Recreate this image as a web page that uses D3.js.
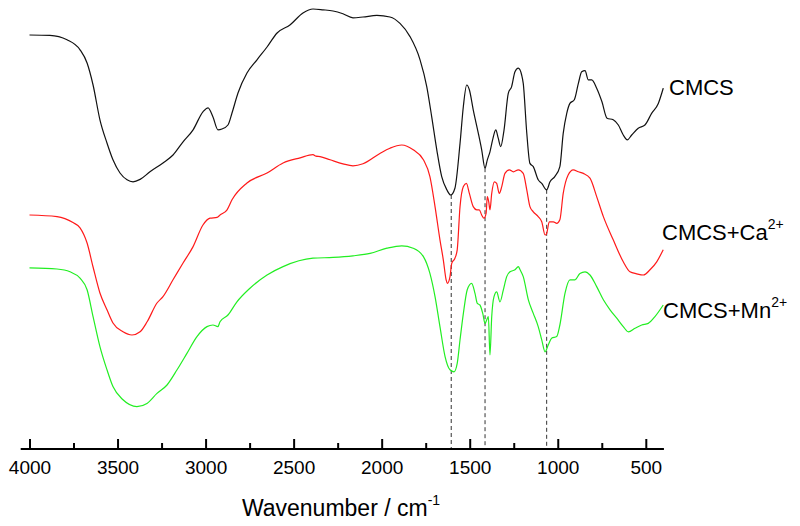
<!DOCTYPE html>
<html>
<head>
<meta charset="utf-8">
<script src="https://cdn.jsdelivr.net/npm/d3@7"></script>
<style>
  html, body { margin: 0; padding: 0; background: #fff; }
  svg { display: block; font-family: "Liberation Sans", Arial, sans-serif; }
</style>
</head>
<body>
<svg id="chart" width="800" height="526"></svg>
<script>
// ---------------- DATA ----------------
const seriesNames = ["CMCS", "CMCS+Ca", "CMCS+Mn"];
const seriesSup = ["", "2+", "2+"];

const cmcsWn = [4000,3884,3787,3713,3673,3639,3600,3560,3526,3486,3446,3412,3372,3316,3242,3185,3128,3071,3015,2986,2958,2930,2907,2873,2850,2816,2765,2708,2651,2594,2521,2447,2390,2333,2276,2220,2163,2106,2027,1953,1896,1839,1782,1744,1716,1687,1659,1630,1608,1584,1555,1536,1517,1502,1480,1451,1432,1413,1400,1385,1370,1352,1338,1324,1305,1281,1262,1243,1224,1205,1196,1176,1158,1139,1111,1091,1063,1044,1017,988,969,949,931,906,883,864,845,827,807,779,749,720,685,656,628,605,580,543,505,467,429,401];
const cmcsT  = [103.5,103.4,102.3,99.8,96.5,91,82.3,76.5,72.3,69,67.3,66.8,67.4,69.3,71.5,73.5,76.8,79.8,84.3,85.3,83,79.8,80,81,84,89,94,97.3,100.5,104,106,109,110,109.8,109.5,108.8,107.8,108,108.4,108,106.4,103.1,97.3,90.6,83.1,74.8,68.1,64.8,63.5,65.2,76.4,85.7,91,89.8,84.8,78.9,74.8,70.2,72.3,74.3,77.3,79.8,77.7,75.6,79.8,88.9,90.6,94.3,95.2,93.5,91.4,79,71.4,70.6,67.3,66.4,64.8,66.8,68.1,70.6,78.9,83.9,86.4,87.3,91.4,94.3,94.6,92.3,92.3,90.2,86.8,82.7,82.3,81,78.5,77.3,78.5,80.2,81,83.9,86.4,90.2];

const caWn = [4000,3844,3753,3713,3673,3639,3600,3560,3526,3469,3418,3372,3332,3276,3242,3185,3128,3071,3015,2975,2935,2918,2878,2850,2765,2651,2560,2463,2390,2373,2350,2293,2220,2163,2106,2010,1953,1886,1821,1763,1726,1697,1669,1650,1634,1627,1612,1602,1584,1571,1555,1536,1519,1502,1480,1460,1446,1432,1419,1407,1400,1392,1385,1375,1360,1347,1332,1318,1300,1275,1252,1224,1196,1176,1158,1139,1111,1091,1072,1063,1048,1025,1006,988,969,941,912,883,855,817,779,741,685,628,590,552,514,476,438,401];
const caT  = [58.5,58.1,56.6,55.3,51.5,45.5,39,34.8,31.5,29.3,28.5,29.3,31.8,36.5,38.1,42.3,46.5,50.6,56,57.7,57.9,58.5,59.8,62.3,66.5,69,71.5,72.8,73.6,73.2,73.1,72.3,71.3,70.8,71.3,73.9,75.2,76,74.8,72.3,68.1,60.6,52.3,47.3,42.3,41.4,43.1,46.4,47.7,49.8,60.6,65.6,66.4,63.9,60.6,59.8,59.8,58.5,57.7,58.9,63.1,61.8,59.8,63.9,66.8,66.4,63.9,65.6,68.9,69.8,69.3,69.8,68.9,64.8,60.6,59.3,58.1,56.8,53.5,53.9,56.8,56.8,56.4,57.3,63.9,68.5,69.8,69.3,68.9,67.7,63.1,58.1,52.3,46.8,44.3,43.8,43.5,44.8,46.8,49.8];

const mnWn = [4000,3844,3770,3713,3673,3639,3600,3560,3526,3469,3390,3333,3276,3219,3162,3106,3049,2992,2958,2930,2918,2873,2822,2748,2651,2560,2390,2276,2163,2066,1970,1886,1821,1763,1726,1697,1669,1640,1612,1589,1571,1555,1536,1514,1489,1470,1457,1442,1426,1413,1403,1394,1385,1375,1362,1347,1328,1309,1290,1271,1243,1224,1214,1196,1167,1139,1111,1091,1072,1054,1035,1006,988,959,931,902,874,845,817,779,741,703,665,628,599,561,523,486,448,401];
const mnT  = [45.3,45,44.3,42.7,39.8,33.1,25.6,19.8,15.6,12.3,10.6,11.4,13.9,16,19.8,23.9,28.1,30.6,31,30.6,31.8,33.5,36.8,40.2,43.5,45.6,47.7,47.9,48.3,48.9,50.2,50.8,50.2,48.1,43.9,38.1,30.6,23.1,19.8,19.3,21.4,27.3,33.9,39.8,41.4,38.9,36.4,36,33.9,31.4,32.3,33.1,23.5,33.1,38.1,39.3,36.8,39.8,43.1,44.3,44.8,45.6,44.8,43.1,37.3,33.9,30.6,27.3,24.3,26,27.7,28.1,31,38.9,42.3,42.3,43.9,44.3,43.5,40.6,37.3,34.8,32.7,30.6,29.3,30.2,31,31.4,33.1,36];

// dashed guide lines (band positions, cm-1) and their top (on CMCS trace)
const bandWn  = [1605, 1413, 1063];
const bandTop = [63.5, 70.2, 64.8];

const majorTicks = [4000, 3500, 3000, 2500, 2000, 1500, 1000, 500];
const minorTicks = [3750, 3250, 2750, 2250, 1750, 1250, 750];

const colors = ["#111111", "#ff1a1a", "#22ee22"];

// ---------------- CHART ----------------
const svg = d3.select("#chart");
const axisY = 449;

const x = d3.scaleLinear().domain([4000, 500]).range([29.5, 645.8]);
const y = d3.scaleLinear().domain([0, 100]).range([axisY, 49]);

const seriesData = [
  d3.zip(cmcsWn, cmcsT),
  d3.zip(caWn, caT),
  d3.zip(mnWn, mnT)
];

const line = d3.line()
  .x(d => x(d[0]))
  .y(d => y(d[1]))
  .curve(d3.curveMonotoneX);

// dashed guides
svg.append("g").selectAll("line").data(d3.zip(bandWn, bandTop)).join("line")
  .attr("x1", d => x(d[0])).attr("x2", d => x(d[0]))
  .attr("y1", d => y(d[1])).attr("y2", y(0))
  .attr("stroke", "#333").attr("stroke-width", 1)
  .attr("stroke-dasharray", "4,3");

// series lines
svg.append("g").selectAll("path").data(seriesData).join("path")
  .attr("d", d => line(d.slice().sort((a, b) => b[0] - a[0])))
  .attr("fill", "none")
  .attr("stroke", (d, i) => colors[i])
  .attr("stroke-width", 1.2)
  .attr("stroke-linejoin", "round");

// axis
const xAxis = d3.axisBottom(x)
  .tickValues(majorTicks)
  .tickFormat(d3.format("d"))
  .tickSizeInner(-10)
  .tickSizeOuter(0)
  .tickPadding(12);

const gx = svg.append("g").attr("transform", `translate(0,${axisY})`).call(xAxis);
gx.select(".domain").remove();
gx.selectAll(".tick line").attr("stroke", "#000").attr("stroke-width", 2);
gx.selectAll(".tick text")
  .attr("font-family", "'Liberation Sans', Arial, sans-serif")
  .attr("font-size", 19).attr("fill", "#000");

const xMinor = d3.axisBottom(x).tickValues(minorTicks).tickSizeInner(-6).tickSizeOuter(0).tickFormat("");
const gm = svg.append("g").attr("transform", `translate(0,${axisY})`).call(xMinor);
gm.select(".domain").remove();
gm.selectAll(".tick line").attr("stroke", "#000").attr("stroke-width", 2);

svg.append("line")
  .attr("x1", x(4050)).attr("x2", x(397))
  .attr("y1", axisY).attr("y2", axisY)
  .attr("stroke", "#000").attr("stroke-width", 2);

// axis title
const title = svg.append("text")
  .attr("x", 341).attr("y", 516)
  .attr("text-anchor", "middle")
  .attr("font-size", 23).attr("fill", "#000");
title.append("tspan").text("Wavenumber / cm");
title.append("tspan").attr("font-size", 14).attr("dy", -11).text("-1");

// series labels
const labelPos = [[669, 95], [662, 240], [663, 318]];
seriesNames.forEach((name, i) => {
  const t = svg.append("text")
    .attr("x", labelPos[i][0]).attr("y", labelPos[i][1])
    .attr("font-size", 22).attr("fill", "#000");
  t.append("tspan").text(name);
  if (seriesSup[i]) t.append("tspan").attr("font-size", 14).attr("dy", -11).text(seriesSup[i]);
});
</script>
</body>
</html>
